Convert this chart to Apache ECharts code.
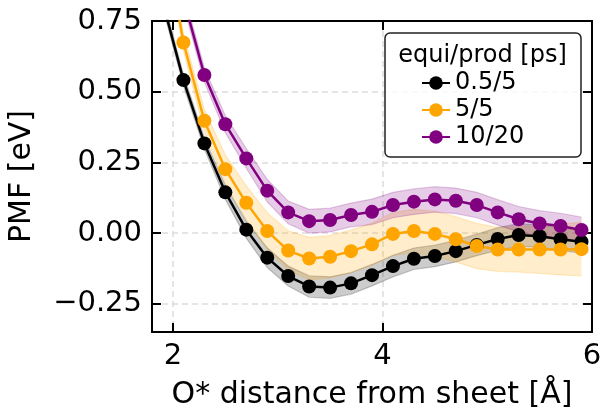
<!DOCTYPE html>
<html>
<head>
<meta charset="utf-8">
<script src="https://cdn.jsdelivr.net/npm/echarts@6/dist/echarts.min.js"></script>
<style>
  html, body { margin: 0; padding: 0; background: #ffffff; }
  #chart { width: 601px; height: 408px; }
</style>
</head>
<body>
<div id="chart"></div>
<script>
// O* distance from the sheet (Å)
const distance = [1.9, 2.1, 2.3, 2.5, 2.7, 2.9, 3.1, 3.3, 3.5, 3.7, 3.9,
                  4.1, 4.3, 4.5, 4.7, 4.9, 5.1, 5.3, 5.5, 5.7, 5.9];

// PMF (eV) and its uncertainty for each equilibration/production length
const pmfShort = [0.82, 0.541, 0.317, 0.144, 0.012, -0.087, -0.152, -0.189, -0.193, -0.178, -0.149,
                  -0.117, -0.091, -0.081, -0.064, -0.042, -0.021, -0.007, -0.011, -0.022, -0.031];
const errShort = [0.02, 0.02, 0.02, 0.025, 0.03, 0.035, 0.035, 0.038, 0.038, 0.038, 0.038,
                  0.038, 0.038, 0.038, 0.038, 0.038, 0.04, 0.04, 0.04, 0.04, 0.04];

const pmfMid = [1.10, 0.674, 0.397, 0.226, 0.107, 0.007, -0.062, -0.090, -0.084, -0.064, -0.040,
                -0.003, 0.007, -0.003, -0.022, -0.046, -0.058, -0.058, -0.058, -0.058, -0.057];
const errMid = [0.03, 0.03, 0.04, 0.05, 0.06, 0.065, 0.07, 0.075, 0.075, 0.075, 0.075,
                0.075, 0.077, 0.08, 0.08, 0.08, 0.078, 0.08, 0.085, 0.09, 0.095];

const pmfLong = [1.15, 0.83, 0.559, 0.385, 0.264, 0.150, 0.073, 0.042, 0.046, 0.064, 0.075,
                 0.099, 0.111, 0.119, 0.114, 0.099, 0.073, 0.049, 0.034, 0.025, 0.011];
const errLong = [0.025, 0.025, 0.025, 0.03, 0.035, 0.04, 0.04, 0.042, 0.042, 0.042, 0.045,
                 0.045, 0.045, 0.045, 0.045, 0.045, 0.045, 0.045, 0.045, 0.045, 0.045];

const seriesNames = ['0.5/5', '5/5', '10/20'];
const legendTitle = 'equi/prod [ps]';
const xTicks = [2, 4, 6];
const yTicks = [-0.25, 0, 0.25, 0.5, 0.75];
const xTitle = 'O* distance from sheet [Å]';
const yTitle = 'PMF [eV]';

const FONT = 'DejaVu Sans';
const runs = [
  { name: seriesNames[0], mean: pmfShort, err: errShort, color: '#000000', band: 'rgba(0,0,0,0.2)' },
  { name: seriesNames[1], mean: pmfMid,   err: errMid,   color: '#ffa500', band: 'rgba(255,165,0,0.2)' },
  { name: seriesNames[2], mean: pmfLong,  err: errLong,  color: '#800080', band: 'rgba(128,0,128,0.2)' }
];

// shaded mean ± err band drawn as one clipped polygon
function bandSeries(run) {
  return {
    type: 'custom',
    name: run.name + ' band',
    coordinateSystem: 'cartesian2d',
    silent: true,
    data: distance.map((x, i) => [x, run.mean[i] - run.err[i], run.mean[i] + run.err[i]]),
    encode: { x: 0, y: [1, 2] },
    renderItem(params, api) {
      if (params.dataIndex !== 0) return null;
      const upper = distance.map((x, i) => api.coord([x, run.mean[i] + run.err[i]]));
      const lower = distance.map((x, i) => api.coord([x, run.mean[i] - run.err[i]]));
      const cs = params.coordSys;
      const clip = () => ({ type: 'rect', shape: { x: cs.x, y: cs.y, width: cs.width, height: cs.height } });
      return {
        type: 'group',
        children: [
          { type: 'polygon', shape: { points: upper.concat(lower.slice().reverse()) },
            style: { fill: run.band }, clipPath: clip() },
          { type: 'polyline', shape: { points: upper },
            style: { fill: null, stroke: run.band, lineWidth: 1.2 }, clipPath: clip() },
          { type: 'polyline', shape: { points: lower },
            style: { fill: null, stroke: run.band, lineWidth: 1.2 }, clipPath: clip() }
        ]
      };
    }
  };
}

function lineSeries(run) {
  return {
    type: 'line',
    name: run.name,
    data: distance.map((x, i) => [x, run.mean[i]]),
    symbol: 'circle',
    symbolSize: 14,
    clip: true,
    lineStyle: { color: run.color, width: 2.5 },
    itemStyle: { color: run.color },
    emphasis: { disabled: true }
  };
}

const series = [];
runs.forEach(r => { series.push(bandSeries(r)); series.push(lineSeries(r)); });

const fmtY = v => v.toFixed(2).replace('-', '\u2212');
const tickStyle = (values) => ({ show: true, inside: true, length: 9, lineStyle: { color: '#000', width: 2 }, customValues: values });
const splitStyle = { show: true, lineStyle: { color: '#dddddd', width: 1.5, type: [6, 4] } };

const chart = echarts.init(document.getElementById('chart'), null, { renderer: 'canvas' });
chart.setOption({
  animation: false,
  backgroundColor: '#ffffff',
  grid: { left: 152, right: 9, top: 21, bottom: 76, containLabel: false, outerBoundsMode: 'none' },
  xAxis: [
    {
      type: 'value', min: 1.8, max: 6, position: 'bottom',
      axisLine: { show: true, onZero: false, lineStyle: { color: '#000', width: 2 } },
      axisTick: tickStyle(xTicks),
      axisLabel: { customValues: xTicks, color: '#000', fontFamily: FONT, fontSize: 29, margin: 10 },
      splitLine: splitStyle,
      name: xTitle, nameLocation: 'middle', nameGap: 48,
      nameTextStyle: { color: '#000', fontFamily: FONT, fontSize: 30 }
    },
    {
      type: 'value', min: 1.8, max: 6, position: 'top',
      axisLine: { show: true, onZero: false, lineStyle: { color: '#000', width: 2 } },
      axisTick: tickStyle(xTicks),
      axisLabel: { show: false, customValues: xTicks },
      splitLine: { show: false }
    }
  ],
  yAxis: [
    {
      type: 'value', min: -0.35, max: 0.75, position: 'left',
      axisLine: { show: true, onZero: false, lineStyle: { color: '#000', width: 2 } },
      axisTick: tickStyle(yTicks),
      axisLabel: { customValues: yTicks, formatter: fmtY, color: '#000', fontFamily: FONT, fontSize: 29, margin: 10 },
      splitLine: splitStyle,
      name: yTitle, nameLocation: 'middle', nameGap: 115,
      nameTextStyle: { color: '#000', fontFamily: FONT, fontSize: 30 }
    },
    {
      type: 'value', min: -0.35, max: 0.75, position: 'right',
      axisLine: { show: true, onZero: false, lineStyle: { color: '#000', width: 2 } },
      axisTick: tickStyle(yTicks),
      axisLabel: { show: false, customValues: yTicks },
      splitLine: { show: false }
    }
  ],
  legend: {
    data: seriesNames,
    orient: 'vertical',
    left: 421,
    top: 71,
    padding: 0,
    itemWidth: 28,
    itemHeight: 17,
    itemGap: 3,
    selectedMode: false,
    textStyle: { color: '#000', fontFamily: FONT, fontSize: 24, lineHeight: 24 },
    z: 20
  },
  graphic: [
    {
      type: 'rect', z: 15,
      shape: { x: 385, y: 33, width: 196, height: 124, r: 5 },
      style: { fill: 'rgba(255,255,255,0.8)', stroke: '#222', lineWidth: 1.5 }
    },
    {
      type: 'text', z: 16, x: 482.5, y: 56,
      style: { text: legendTitle, font: '24px "DejaVu Sans"', fill: '#000', align: 'center', verticalAlign: 'middle' }
    }
  ],
  series: series
});
</script>
</body>
</html>
